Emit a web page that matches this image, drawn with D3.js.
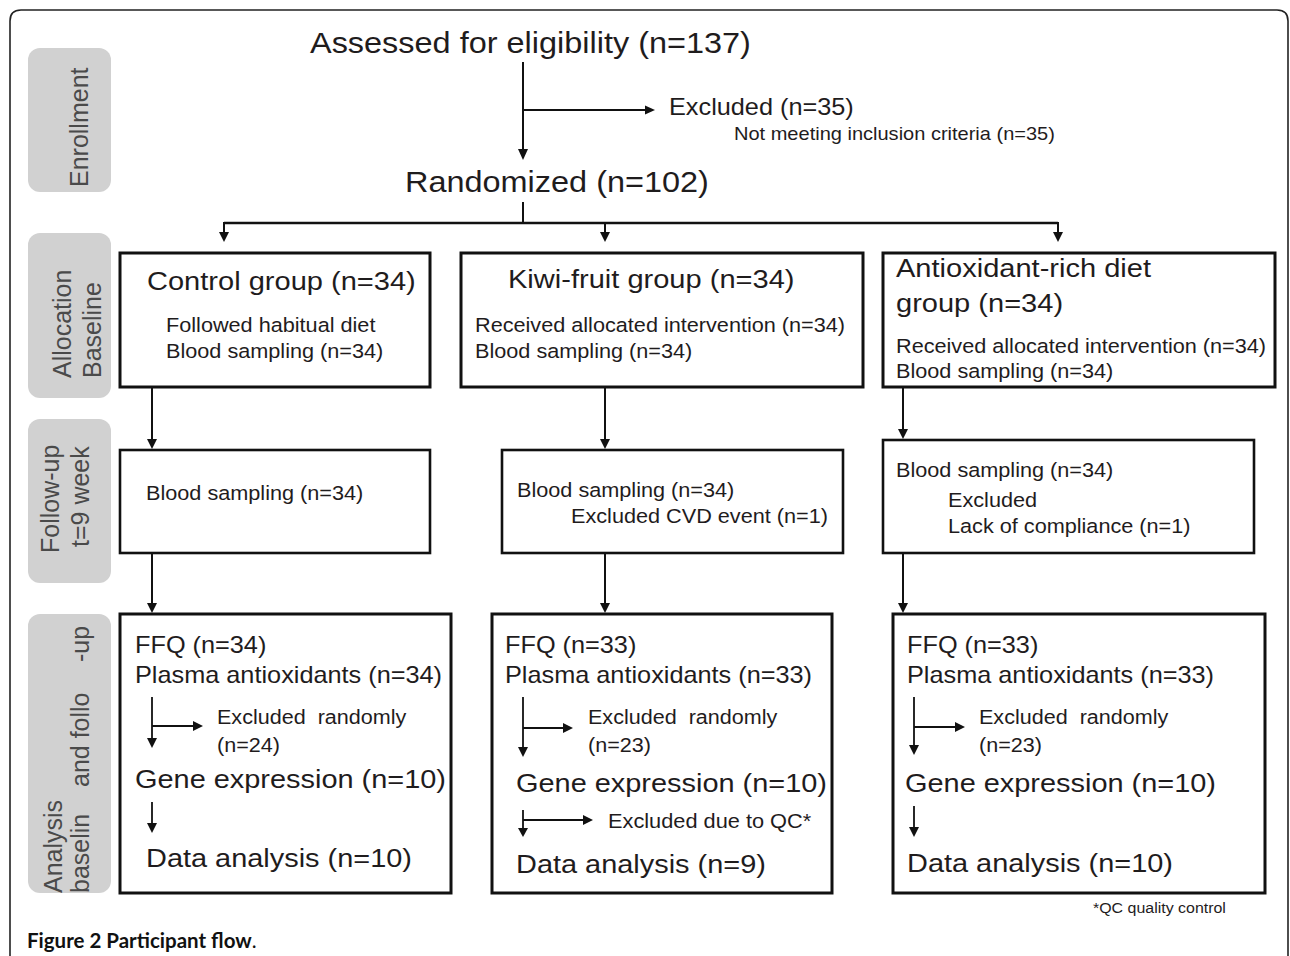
<!DOCTYPE html>
<html>
<head>
<meta charset="utf-8">
<script src="https://cdn.jsdelivr.net/npm/d3@7"></script>
<style>
  html, body { margin: 0; padding: 0; background: #fff; }
  svg { display: block; }
  text { font-family: "Liberation Sans", Arial, Helvetica, sans-serif; fill: #1f1c1d; white-space: pre; }
  .stage text { fill: #4a4a4a; }
  .caption { font-family: Lato, "Open Sans", sans-serif; font-weight: bold; fill: #111; }
</style>
</head>
<body>
<svg id="chart" width="1290" height="956"></svg>
<script>
// ---- content of the flow chart ----
const stageLabels = [["Enrollment"], ["Allocation", "Baseline"], ["Follow-up", "t=9 week"], ["Analysis", "baselin", "and follo", "-up"]];
const assessedText = "Assessed for eligibility (n=137)";
const excludedText = ["Excluded (n=35)", "Not meeting inclusion criteria (n=35)"];
const randomizedText = "Randomized (n=102)";
const groupTitles = [["Control group (n=34)"], ["Kiwi-fruit group (n=34)"], ["Antioxidant-rich diet", "group (n=34)"]];
const allocationNotes = [
  ["Followed habitual diet", "Blood sampling (n=34)"],
  ["Received allocated intervention (n=34)", "Blood sampling (n=34)"],
  ["Received allocated intervention (n=34)", "Blood sampling (n=34)"]
];
const followUpNotes = [
  ["Blood sampling (n=34)"],
  ["Blood sampling (n=34)", "Excluded CVD event (n=1)"],
  ["Blood sampling (n=34)", "Excluded", "Lack of compliance (n=1)"]
];
const ffqN = [34, 33, 33];
const plasmaN = [34, 33, 33];
const excludedRandomN = [24, 23, 23];
const geneN = [10, 10, 10];
const qcExcluded = [null, "Excluded due to QC*", null];
const dataAnalysisN = [10, 9, 10];
const footnote = "*QC quality control";
const caption = ["Figure 2 Participant flow", "."];

// ---- layout ----
const stageBoxes = [[48, 192], [233, 398], [419, 583], [614, 893]];
const stageText = [
  [[88, 187]],
  [[71, 378], [101, 378]],
  [[59, 553], [89, 547]],
  [[62, 893], [89, 893], [89, 787], [89, 662]]
];
const allocBoxes = [[120, 430, 253, 387], [461, 863, 253, 387], [883, 1275, 253, 387]];
const followBoxes = [[120, 430, 450, 553], [502, 843, 450, 553], [883, 1254, 440, 553]];
const analysisBoxes = [[120, 451, 614, 893], [492, 832, 614, 893], [893, 1265, 614, 893]];
const branchX = [224, 605, 1058];
const stemX = [152, 605, 903];
const innerX = [152, 523, 914];

const titlePos = [[[147, 290]], [[508, 288]], [[896, 277], [896, 312]]];
const allocPos = [[[166, 332], [166, 358]], [[475, 332], [475, 358]], [[896, 353], [896, 378]]];
const followPos = [[[146, 500]], [[517, 497], [571, 523]], [[896, 477], [948, 507], [948, 533]]];
const ffqX = [135, 505, 907];
const exclX = [217, 588, 979];
const geneX = [135, 516, 905];
const geneY = [788, 792, 792];
const dataX = [146, 516, 907];
const dataY = [867, 873, 872];
const randArrowTip = [748, 757, 755];
const randArrowEnd = [203, 573, 965];
const randArrowY = [726, 728, 727];

const SX = 1.1; // source type is slightly stretched horizontally
const svg = d3.select("#chart");

function txt(g, s, x, y, size, rot, sx) {
  return g.append("text")
    .attr("transform", `translate(${x},${y})` + (rot ? " rotate(-90)" : "") + ` scale(${sx || SX},1)`)
    .attr("font-size", size)
    .text(s);
}

function line(pts, w) {
  svg.append("path")
    .attr("d", d3.line()(pts))
    .attr("fill", "none")
    .attr("stroke", "#111")
    .attr("stroke-width", w || 2);
}

function arrow(pts, w, len, half) {
  len = len || 11; half = half || 5;
  const [x1, y1] = pts[pts.length - 2];
  const [x2, y2] = pts[pts.length - 1];
  const a = Math.atan2(y2 - y1, x2 - x1);
  const bx = x2 - len * Math.cos(a), by = y2 - len * Math.sin(a);
  const p = pts.slice(0, -1).concat([[bx, by]]);
  line(p, w);
  const nx = -Math.sin(a) * half, ny = Math.cos(a) * half;
  svg.append("path")
    .attr("d", d3.line()([[x2, y2], [bx + nx, by + ny], [bx - nx, by - ny]]) + "Z")
    .attr("fill", "#111");
}

// outer frame (open at bottom)
svg.append("path")
  .attr("d", "M10,956 L10,21 Q10,10 21,10 L1277,10 Q1288,10 1288,21 L1288,956")
  .attr("fill", "none").attr("stroke", "#222").attr("stroke-width", 1.6);

// stage labels
const stage = svg.append("g").attr("class", "stage");
stageBoxes.forEach(([y0, y1], i) => {
  stage.append("rect")
    .attr("x", 28).attr("y", y0).attr("width", 83).attr("height", y1 - y0)
    .attr("rx", 12).attr("fill", "#d1d1d1");
  stageLabels[i].forEach((s, j) => txt(stage, s, stageText[i][j][0], stageText[i][j][1], 25, true, 1));
});

const g = svg.append("g");

// enrollment
txt(g, assessedText, 310, 53, 29.5);
txt(g, excludedText[0], 669, 115, 23);
txt(g, excludedText[1], 734, 140, 18.2);
txt(g, randomizedText, 405, 192, 29.5);
arrow([[523, 62], [523, 160]], 2);
arrow([[523, 110], [655, 110]], 2, 10, 4.5);

line([[523, 202], [523, 223]], 2);
line([[branchX[0], 223], [branchX[2], 223]], 2.6);
branchX.forEach(x => arrow([[x, 222], [x, 242]], 2, 10, 5));

// boxes
function box(b, w) {
  svg.append("rect")
    .attr("x", b[0]).attr("y", b[2]).attr("width", b[1] - b[0]).attr("height", b[3] - b[2])
    .attr("fill", "none").attr("stroke", "#111").attr("stroke-width", w);
}

allocBoxes.forEach(b => box(b, 3));
followBoxes.forEach(b => box(b, 2.6));
analysisBoxes.forEach(b => box(b, 3));

// connectors between rows
stemX.forEach((x, i) => {
  arrow([[x, allocBoxes[i][3]], [x, followBoxes[i][2] - 1]], 2, 10, 5);
  arrow([[x, followBoxes[i][3]], [x, analysisBoxes[i][2] - 1]], 2, 10, 5);
});

// allocation / follow-up texts
groupTitles.forEach((lines, i) => lines.forEach((s, j) => txt(g, s, titlePos[i][j][0], titlePos[i][j][1], 26.4)));
allocationNotes.forEach((lines, i) => lines.forEach((s, j) => txt(g, s, allocPos[i][j][0], allocPos[i][j][1], 19.7)));
followUpNotes.forEach((lines, i) => lines.forEach((s, j) => txt(g, s, followPos[i][j][0], followPos[i][j][1], 19.7)));

// analysis texts
ffqN.forEach((n, i) => {
  txt(g, `FFQ (n=${n})`, ffqX[i], 653, 23);
  txt(g, `Plasma antioxidants (n=${plasmaN[i]})`, ffqX[i], 683, 23);
  txt(g, "Excluded  randomly", exclX[i], 724, 19.6);
  txt(g, `(n=${excludedRandomN[i]})`, exclX[i], 752, 19.6);
  txt(g, `Gene expression (n=${geneN[i]})`, geneX[i], geneY[i], 26.3);
  txt(g, `Data analysis (n=${dataAnalysisN[i]})`, dataX[i], dataY[i], 26.3);

  const x = innerX[i];
  arrow([[x, 697], [x, randArrowTip[i]]], 1.8, 10, 5);
  arrow([[x, randArrowY[i]], [randArrowEnd[i], randArrowY[i]]], 1.8, 10, 5);

  if (qcExcluded[i]) {
    arrow([[x, 810], [x, 837]], 1.8, 9, 5);
    arrow([[x, 820], [593, 820]], 1.8, 10, 5);
    txt(g, qcExcluded[i], 608, 828, 19.8);
  } else {
    arrow([[x, geneY[i] + 14], [x, geneY[i] + 45]], 1.8, 10, 5);
  }
});

txt(g, footnote, 1093, 913, 14.5);

// caption
const cap = svg.append("text").attr("class", "caption")
  .attr("x", 27).attr("y", 948).attr("font-size", 20.5);
cap.append("tspan").text(caption[0]);
cap.append("tspan").attr("font-weight", "normal").text(caption[1]);
</script>
</body>
</html>
